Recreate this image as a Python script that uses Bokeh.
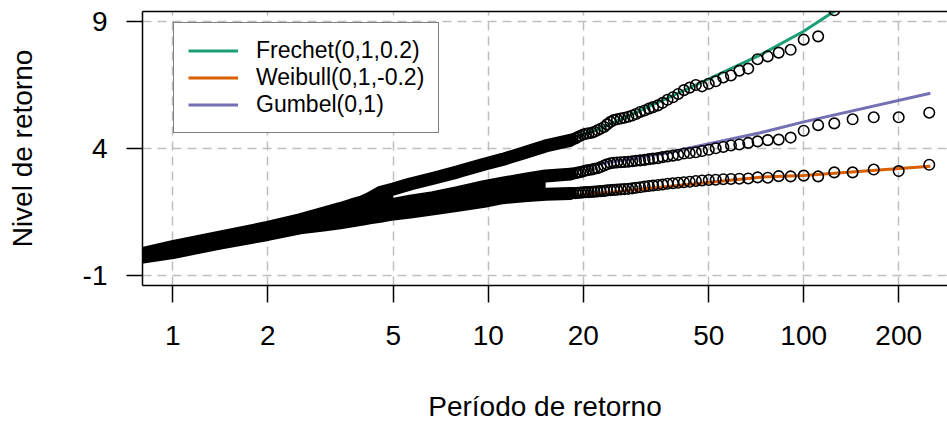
from bokeh.plotting import figure
from bokeh.models import (Range1d, FixedTicker, LinearAxis, Legend, LegendItem,
                          NumeralTickFormatter)
from bokeh.embed import file_html
from bokeh.resources import INLINE

# ---------------- data ----------------
x_ticks = [1, 2, 5, 10, 20, 50, 100, 200]
y_ticks = [-1, 4, 9]

# return periods of the distinguishable circles (right part)
T_pts = [250, 200, 166.7, 142.9, 125, 111.1, 100, 90.9, 83.3, 76.9, 71.4, 66.7,
         62.5, 58.8, 55.6, 52.6, 50, 47.6, 45.5, 43.5, 41.7, 40, 38.5, 37.0,
         35.7, 34.5, 33.3, 32.3, 31.3, 30.3, 29.4, 28.6, 27.8, 27.0, 26.3, 25.6,
         25.0, 24.4, 23.8, 23.3, 22.7, 22.2, 21.7, 21.3, 20.8, 20.4, 20.0, 19.6,
         19.2, 18.9, 18.5, 18.2]

frechet_T = [125, 111.1, 100, 90.9, 83.3, 76.9, 71.4, 66.7,
             62.5, 58.8, 55.6, 52.6, 50, 47.6, 45.5, 43.5, 41.7, 40, 38.5, 37.0,
             35.7, 34.5, 33.3, 32.3, 31.3, 30.3, 29.4, 28.6, 27.8, 27.0, 26.3, 25.6,
             25.0, 24.4, 23.8, 23.3, 22.7, 22.2, 21.7, 21.3, 20.8, 20.4, 20.0, 19.6,
             19.2, 18.9, 18.5, 18.2]
frechet_pts = [9.45, 8.42, 8.29, 7.89, 7.78, 7.63, 7.52, 7.15, 7.07, 6.88, 6.80, 6.65,
               6.55, 6.45, 6.50, 6.40, 6.30, 6.15, 6.02, 5.92, 5.80, 5.70, 5.63, 5.57,
               5.50, 5.44, 5.36, 5.30, 5.25, 5.21, 5.18, 5.15, 5.12, 5.05, 4.95, 4.85,
               4.78, 4.72, 4.66, 4.62, 4.60, 4.58, 4.55, 4.50, 4.45, 4.40, 4.36, 4.32]
gumbel_pts = [5.41, 5.23, 5.23, 5.15, 4.99, 4.92, 4.70, 4.43, 4.35, 4.33, 4.28, 4.22,
              4.16, 4.12, 4.06, 4.01, 3.95, 3.90, 3.85, 3.82, 3.80, 3.75, 3.72, 3.69,
              3.66, 3.62, 3.60, 3.58, 3.55, 3.53, 3.52, 3.50, 3.48, 3.47, 3.46, 3.45,
              3.44, 3.42, 3.38, 3.33, 3.27, 3.22, 3.20, 3.17, 3.15, 3.13, 3.10, 3.07,
              3.05, 3.03, 3.01, 2.99]
weibull_pts = [3.36, 3.11, 3.17, 3.06, 3.06, 2.90, 2.93, 2.90, 2.91, 2.85, 2.86, 2.82,
               2.81, 2.80, 2.79, 2.77, 2.76, 2.74, 2.72, 2.69, 2.67, 2.65, 2.63, 2.61,
               2.58, 2.56, 2.54, 2.52, 2.50, 2.47, 2.45, 2.43, 2.41, 2.40, 2.39, 2.38,
               2.37, 2.36, 2.35, 2.33, 2.32, 2.31, 2.30, 2.29, 2.28, 2.28, 2.27, 2.26,
               2.25, 2.24, 2.24, 2.23]

# dense part of the samples (circles so close they form a solid band)
band_T = [0.78, 1.0, 1.41, 2.0, 2.53, 3.0, 3.39, 3.7, 4.0, 4.2, 4.54, 5.0, 5.66,
          6.7, 8.0, 9.7, 11.1, 13.0, 15.2, 18.2]
frechet_band = [-0.17, 0.13, 0.51, 0.89, 1.19, 1.45, 1.63, 1.78, 1.90, 2.02, 2.26,
                2.40, 2.60, 2.83, 3.08, 3.38, 3.57, 3.83, 4.10, 4.32]
gumbel_band = [-0.22, 0.02, 0.38, 0.76, 1.03, 1.20, 1.33, 1.42, 1.52, 1.58, 1.68,
               1.80, 1.92, 2.06, 2.26, 2.50, 2.63, 2.78, 2.92, 2.99]
weibull_band = [-0.30, -0.10, 0.27, 0.61, 0.87, 0.98, 1.07, 1.15, 1.22, 1.27, 1.33,
                1.42, 1.50, 1.62, 1.76, 1.92, 2.06, 2.14, 2.20, 2.23]

# theoretical return level curves
frechet_line_T = [0.78, 1, 2, 5, 10, 22.7, 37.8, 72.9, 100, 125, 150]
frechet_line = [-0.15, 0.12, 0.90, 2.40, 3.40, 4.79, 6.04, 7.69, 8.62, 9.41, 10.2]
weibull_line_T = [0.78, 1, 2, 5, 10, 22.7, 72.9, 100, 252]
weibull_line = [-0.30, -0.10, 0.60, 1.40, 1.90, 2.24, 2.87, 2.94, 3.30]
gumbel_line_T = [0.78, 1, 2, 5, 10, 22.7, 36, 72.9, 100, 252]
gumbel_line = [-0.20, 0.02, 0.76, 1.75, 2.50, 3.40, 3.80, 4.62, 5.05, 6.18]

series_names = ["Frechet(0,1,0.2)", "Weibull(0,1,-0.2)", "Gumbel(0,1)"]
colors = ["#1B9E77", "#D95F02", "#7570B3"]
x_title = "Período de retorno"
y_title = "Nivel de retorno"

# ---------------- figure ----------------
FONT = "Liberation Sans"

p = figure(width=947, height=424, x_axis_type="log", output_backend="svg",
           toolbar_location=None,
           x_range=Range1d(0.8016, 285.6), y_range=Range1d(-1.4, 9.4),
           min_border_left=142, min_border_right=0, min_border_top=11,
           min_border_bottom=139)
p.outline_line_color = None
p.background_fill_color = "white"
p.border_fill_color = "white"

# axes
xa = p.xaxis[0]
xa.ticker = FixedTicker(ticks=x_ticks, minor_ticks=[])
xa.formatter = NumeralTickFormatter(format="0")
xa.axis_label = x_title
ya = p.yaxis[0]
ya.ticker = FixedTicker(ticks=y_ticks, minor_ticks=[])
ya.formatter = NumeralTickFormatter(format="0")
ya.axis_label = y_title

for ax in (xa, ya):
    ax.axis_line_color = "black"
    ax.axis_line_width = 1.5
    ax.major_tick_line_color = "black"
    ax.major_tick_line_width = 1.5
    ax.major_tick_in = 0
    ax.minor_tick_out = 0
    ax.minor_tick_in = 0
    ax.major_label_text_font = FONT
    ax.major_label_text_font_size = "28px"
    ax.major_label_text_color = "black"
    ax.axis_label_text_font = FONT
    ax.axis_label_text_font_size = "28px"
    ax.axis_label_text_font_style = "normal"
    ax.axis_label_text_color = "black"

xa.major_tick_out = 17
xa.major_label_standoff = 23
xa.axis_label_standoff = 43
ya.major_tick_out = 16
ya.major_label_standoff = 19
ya.axis_label_standoff = 42

top = LinearAxis(ticker=FixedTicker(ticks=[], minor_ticks=[]),
                 major_tick_out=0, major_tick_in=0, minor_tick_out=0, minor_tick_in=0,
                 major_label_standoff=0, axis_label_standoff=0,
                 major_label_text_font_size="0px",
                 axis_line_color="black", axis_line_width=1.5)
p.add_layout(top, "above")

# grid
p.xgrid[0].ticker = FixedTicker(ticks=x_ticks, minor_ticks=[])
p.ygrid[0].ticker = FixedTicker(ticks=y_ticks, minor_ticks=[])
for g in (p.xgrid[0], p.ygrid[0]):
    g.grid_line_color = "#BEBEBE"
    g.grid_line_dash = "9 6"
    g.grid_line_width = 1.5

# theoretical curves (under the points)
r_fre = p.line(frechet_line_T, frechet_line, line_color=colors[0], line_width=3)
r_wei = p.line(weibull_line_T, weibull_line, line_color=colors[1], line_width=3)
r_gum = p.line(gumbel_line_T, gumbel_line, line_color=colors[2], line_width=3)

# dense part of the empirical points: overlapping circles merge into solid bands
p.varea(x=band_T[:19], y1=weibull_band[:19], y2=gumbel_band[:19], fill_color="black")
p.varea(x=band_T[:12], y1=gumbel_band[:12], y2=frechet_band[:12], fill_color="black")
for band in (frechet_band, gumbel_band, weibull_band):
    p.line(band_T, band, line_color="black", line_width=13,
           line_cap="round", line_join="round")

# separable empirical points
for xs, ys in ((frechet_T, frechet_pts), (T_pts, gumbel_pts), (T_pts, weibull_pts)):
    p.scatter(xs, ys, marker="circle", size=10.5, fill_color=None,
              line_color="black", line_width=1.6)

legend = Legend(items=[LegendItem(label=series_names[0], renderers=[r_fre]),
                       LegendItem(label=series_names[1], renderers=[r_wei]),
                       LegendItem(label=series_names[2], renderers=[r_gum])],
                location=(31, 152))
legend.label_text_font = FONT
legend.label_text_font_size = "23px"
legend.label_text_color = "black"
legend.glyph_width = 50
legend.glyph_height = 27
legend.label_height = 27
legend.label_standoff = 18
legend.padding = 14
legend.spacing = 0
legend.margin = 0
legend.border_line_color = "black"
legend.border_line_width = 1.5
legend.background_fill_color = "white"
legend.background_fill_alpha = 1.0
p.add_layout(legend)

open("out.html", "w").write(file_html(p, INLINE))
